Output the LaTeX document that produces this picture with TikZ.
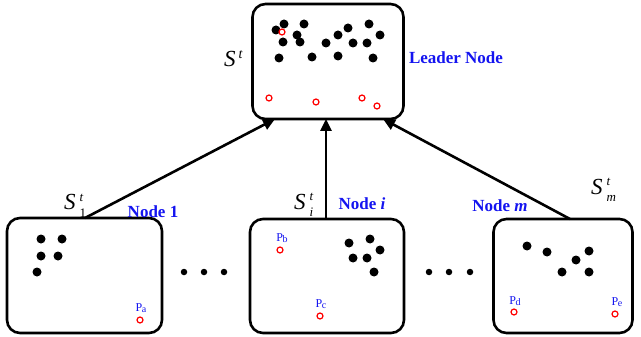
\documentclass[tikz,border=0pt]{standalone}
\usepackage{fontspec}
\setmainfont{Liberation Serif}
\usetikzlibrary{arrows.meta}
\definecolor{lblue}{RGB}{20,20,240}
% S with a superscript t and a subscript below it
\newcommand{\setlbl}[1]{\textit{S}\kern4pt\rlap{\raisebox{9pt}{\fontsize{13}{13}\selectfont\textit{t}}}\raisebox{-7pt}{\fontsize{13}{13}\selectfont #1}}
\newcommand{\leadlbl}{\textit{S}\kern3pt\raisebox{8pt}{\fontsize{14}{14}\selectfont\textit{t}}}
\newcommand{\plabel}[1]{P\kern-0.3pt\raisebox{-1pt}{\fontsize{10}{10}\selectfont #1}}
\tikzset{
  box/.style={draw=black, line width=2.6pt, rounded corners=13pt, fill=white},
  pt/.style={fill=black, circle, inner sep=0pt, minimum size=9pt},
  ring/.style={draw=red, line width=1.2pt, circle, inner sep=0pt, minimum size=6pt, fill=white},
  plbl/.style={text=lblue, font=\fontsize{12}{12}\selectfont, inner sep=0pt},
  nlbl/.style={text=lblue, font=\fontsize{17}{17}\selectfont\bfseries, inner sep=0pt},
  slbl/.style={font=\fontsize{23}{23}\selectfont, inner sep=0pt, anchor=base west},
  link/.style={line width=2.6pt, -{Triangle[length=12pt,width=11pt]}},
  gap/.style={fill=black, circle, inner sep=0pt, minimum size=6.5pt}
}
\begin{document}
\begin{tikzpicture}[x=1pt,y=-1pt]
\useasboundingbox (0,0) rectangle (641,337);

% leader and worker boxes
\node[box, minimum width=151pt, minimum height=115pt] (lead) at (328,61.5) {};
\node[box, minimum width=155pt, minimum height=115pt] (n1) at (84.5,275.5) {};
\node[box, minimum width=154pt, minimum height=114pt] (ni) at (327,276) {};
\node[box, minimum width=139pt, minimum height=114pt] (nm) at (563,276) {};

% samples held by the leader
\foreach \x/\y [count=\k] in {276/30,284/24,304/24,283/42,297/35,300/42,279/58,312/57,326/43,338/35,348/28,353/43,369/24,380/35,367/43,338/56,373/58}
  \node[pt] (l\k) at (\x,\y) {};
\node[ring] (lr1) at (282,32) {};
\node[ring] (lr2) at (269,98) {};
\node[ring] (lr3) at (316,102) {};
\node[ring] (lr4) at (362,98) {};
\node[ring] (lr5) at (377,106) {};

% node 1
\foreach \x/\y [count=\k] in {41/239,62/239,41/256,58/256,37/272}
  \node[pt] (a\k) at (\x,\y) {};
\node[ring] (pa) at (140,320) {};
\node[plbl] (pal) at (141,308) {\plabel{a}};

% node i
\foreach \x/\y [count=\k] in {349/243,370/239,380/250,353/258,367/258,374/272}
  \node[pt] (b\k) at (\x,\y) {};
\node[ring] (pb) at (280,250) {};
\node[plbl] (pbl) at (282,238) {\plabel{b}};
\node[ring] (pc) at (320,316) {};
\node[plbl] (pcl) at (321,304) {\plabel{c}};

% node m
\foreach \x/\y [count=\k] in {527/246,547/252,589/251,576/260,562/272,589/272}
  \node[pt] (c\k) at (\x,\y) {};
\node[ring] (pd) at (514,312) {};
\node[plbl] (pdl) at (515,301) {\plabel{d}};
\node[ring] (pe) at (615,314) {};
\node[plbl] (pel) at (617,302) {\plabel{e}};

% ellipses between the workers
\foreach \x [count=\k] in {184,204,224}
  \node[gap] (g\k) at (\x,272) {};
\foreach \x [count=\k] in {429,449,470}
  \node[gap] (h\k) at (\x,272) {};

% labels
\node[slbl] (sl) at (224,67) {\leadlbl};
\node[nlbl] (ll) at (456,58) {Leader Node};
\node[slbl] (s1) at (64,210) {\setlbl{1}};
\node[nlbl] (t1) at (153,212) {Node 1};
\node[slbl] (si) at (294,209) {\setlbl{\textit{i}}};
\node[nlbl] (ti) at (362,204) {Node \textit{i}};
\node[slbl] (sm) at (591,194) {\setlbl{\textit{m}}};
\node[nlbl] (tm) at (500,206) {Node \textit{m}};

% uploads to the leader
\coordinate (e1) at (85,218);
\coordinate (ei) at (326,219);
\coordinate (em) at (570,219);
\coordinate (f1) at (275,119);
\coordinate (fi) at (326,119);
\coordinate (fm) at (383,119);
\draw[link] (e1) -- (f1);
\draw[link] (ei) -- (fi);
\draw[link] (em) -- (fm);
\end{tikzpicture}
\end{document}
